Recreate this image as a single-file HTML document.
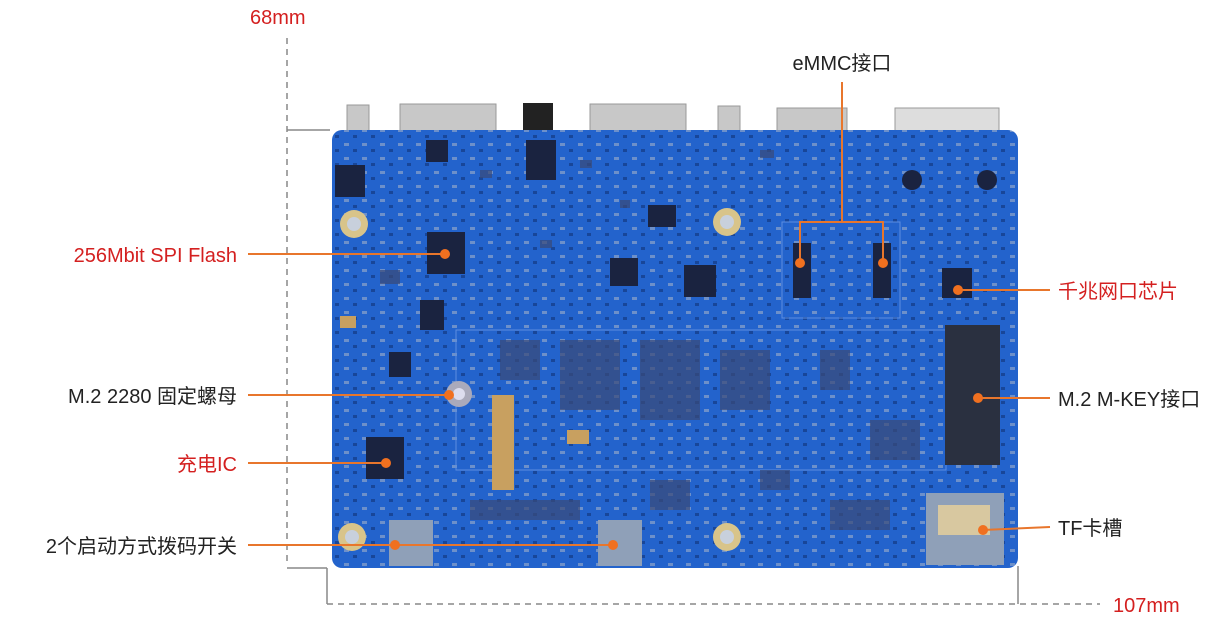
<!DOCTYPE html>
<html><head><meta charset="utf-8"><style>
html,body{margin:0;padding:0;background:#fff;width:1228px;height:625px;overflow:hidden}
svg{display:block}
text{font-family:"Liberation Sans","Noto Sans CJK SC",sans-serif;font-size:20px}
</style></head><body>
<svg width="1228" height="625" viewBox="0 0 1228 625" xmlns="http://www.w3.org/2000/svg">
<defs>
<pattern id="p" width="18" height="14" patternUnits="userSpaceOnUse">
<rect x="2" y="3" width="5" height="3" fill="#a9b4c8" opacity="0.55"/>
<rect x="11" y="9" width="4" height="3" fill="#0e2a66" opacity="0.5"/>
</pattern>
</defs>
<!-- dimension lines -->
<g stroke="#888" stroke-width="1.5" fill="none">
<line x1="287" y1="38" x2="287" y2="566" stroke-dasharray="6,5"/>
<line x1="287" y1="130" x2="330" y2="130"/>
<line x1="287" y1="568" x2="327" y2="568"/>
<line x1="327" y1="568" x2="327" y2="604"/>
<line x1="327" y1="604" x2="1100" y2="604" stroke-dasharray="6,5"/>
<line x1="1018" y1="566" x2="1018" y2="604"/>
</g>
<text x="250" y="24" fill="#d42020" font-size="18">68mm</text>
<text x="1113" y="612" fill="#d42020" font-size="18">107mm</text>
<!-- top connectors -->
<g fill="#c8c8c8" stroke="#999">
<rect x="347" y="105" width="22" height="26"/>
<rect x="400" y="104" width="96" height="27"/>
<rect x="590" y="104" width="96" height="27"/>
<rect x="718" y="106" width="22" height="25"/>
<rect x="777" y="108" width="70" height="23"/>
<rect x="895" y="108" width="104" height="23" fill="#ddd"/>
</g>
<rect x="523" y="103" width="30" height="28" fill="#222"/>
<!-- board -->
<rect x="332" y="130" width="686" height="438" rx="10" fill="#2363cc"/>
<rect x="332" y="130" width="686" height="438" rx="10" fill="url(#p)"/>
<rect x="456" y="330" width="490" height="140" fill="none" stroke="#5c8ee0" stroke-width="1"/>
<rect x="782" y="222" width="118" height="96" fill="none" stroke="#5c8ee0" stroke-width="1"/>
<!-- mounting holes -->
<g fill="#d8c48a"><circle cx="354" cy="224" r="14"/><circle cx="727" cy="222" r="14"/><circle cx="352" cy="537" r="14"/><circle cx="727" cy="537" r="14"/></g>
<g fill="#c8d0dc"><circle cx="354" cy="224" r="7"/><circle cx="727" cy="222" r="7"/><circle cx="352" cy="537" r="7"/><circle cx="727" cy="537" r="7"/></g>
<circle cx="459" cy="394" r="13" fill="#aab"/><circle cx="459" cy="394" r="6" fill="#dde"/>
<!-- chips -->
<g fill="#1a2340">
<rect x="427" y="232" width="38" height="42"/>
<rect x="366" y="437" width="38" height="42"/>
<rect x="942" y="268" width="30" height="30"/>
<rect x="945" y="325" width="55" height="140" fill="#2a3040"/>
<rect x="793" y="243" width="18" height="55"/>
<rect x="873" y="243" width="18" height="55"/>
<rect x="684" y="265" width="32" height="32"/>
<rect x="610" y="258" width="28" height="28"/>
<rect x="420" y="300" width="24" height="30"/>
<rect x="389" y="352" width="22" height="25"/>
<rect x="335" y="165" width="30" height="32"/>
<rect x="648" y="205" width="28" height="22"/>
<rect x="526" y="140" width="30" height="40"/>
<rect x="426" y="140" width="22" height="22"/>
<circle cx="912" cy="180" r="10"/><circle cx="987" cy="180" r="10"/>
</g>
<!-- misc parts -->
<g fill="#c8a060"><rect x="492" y="395" width="22" height="95"/><rect x="567" y="430" width="22" height="14"/><rect x="340" y="316" width="16" height="12"/></g>
<g fill="#8fa0b8"><rect x="926" y="493" width="78" height="72"/><rect x="389" y="520" width="44" height="46"/><rect x="598" y="520" width="44" height="46"/></g>
<g fill="#d8c8a0"><rect x="938" y="505" width="52" height="30"/></g>
<g fill="#3a4a78" opacity="0.7">
<rect x="480" y="170" width="12" height="8"/><rect x="580" y="160" width="12" height="8"/><rect x="620" y="200" width="10" height="8"/><rect x="760" y="150" width="14" height="8"/><rect x="540" y="240" width="12" height="8"/><rect x="560" y="340" width="60" height="70"/><rect x="640" y="340" width="60" height="80"/><rect x="720" y="350" width="50" height="60"/><rect x="820" y="350" width="30" height="40"/><rect x="870" y="420" width="50" height="40"/><rect x="500" y="340" width="40" height="40"/><rect x="380" y="270" width="20" height="14"/><rect x="760" y="470" width="30" height="20"/><rect x="830" y="500" width="60" height="30"/><rect x="470" y="500" width="110" height="20"/><rect x="650" y="480" width="40" height="30"/>
</g>
<!-- callout lines -->
<g stroke="#e8762c" stroke-width="2" fill="none">
<line x1="248" y1="254" x2="445" y2="254"/>
<line x1="248" y1="395" x2="449" y2="395"/>
<line x1="248" y1="463" x2="386" y2="463"/>
<line x1="248" y1="545" x2="613" y2="545"/>
<polyline points="842,82 842,222"/>
<polyline points="800,263 800,222 883,222 883,263"/>
<line x1="958" y1="290" x2="1050" y2="290"/>
<line x1="978" y1="398" x2="1050" y2="398"/>
<line x1="983" y1="530" x2="1050" y2="527"/>
</g>
<g fill="#f07020">
<circle cx="445" cy="254" r="5"/><circle cx="449" cy="395" r="5"/><circle cx="386" cy="463" r="5"/>
<circle cx="395" cy="545" r="5"/><circle cx="613" cy="545" r="5"/>
<circle cx="800" cy="263" r="5"/><circle cx="883" cy="263" r="5"/>
<circle cx="958" cy="290" r="5"/><circle cx="978" cy="398" r="5"/><circle cx="983" cy="530" r="5"/>
</g>
<!-- labels -->
<text x="237" y="262" text-anchor="end" fill="#d42020">256Mbit SPI Flash</text>
<text x="237" y="403" text-anchor="end" fill="#222">M.2 2280 固定螺母</text>
<text x="237" y="471" text-anchor="end" fill="#d42020">充电IC</text>
<text x="237" y="553" text-anchor="end" fill="#222">2个启动方式拨码开关</text>
<text x="842" y="70" text-anchor="middle" fill="#222">eMMC接口</text>
<text x="1058" y="298" fill="#d42020">千兆网口芯片</text>
<text x="1058" y="406" fill="#222">M.2 M-KEY接口</text>
<text x="1058" y="535" fill="#222">TF卡槽</text>
</svg>
</body></html>
